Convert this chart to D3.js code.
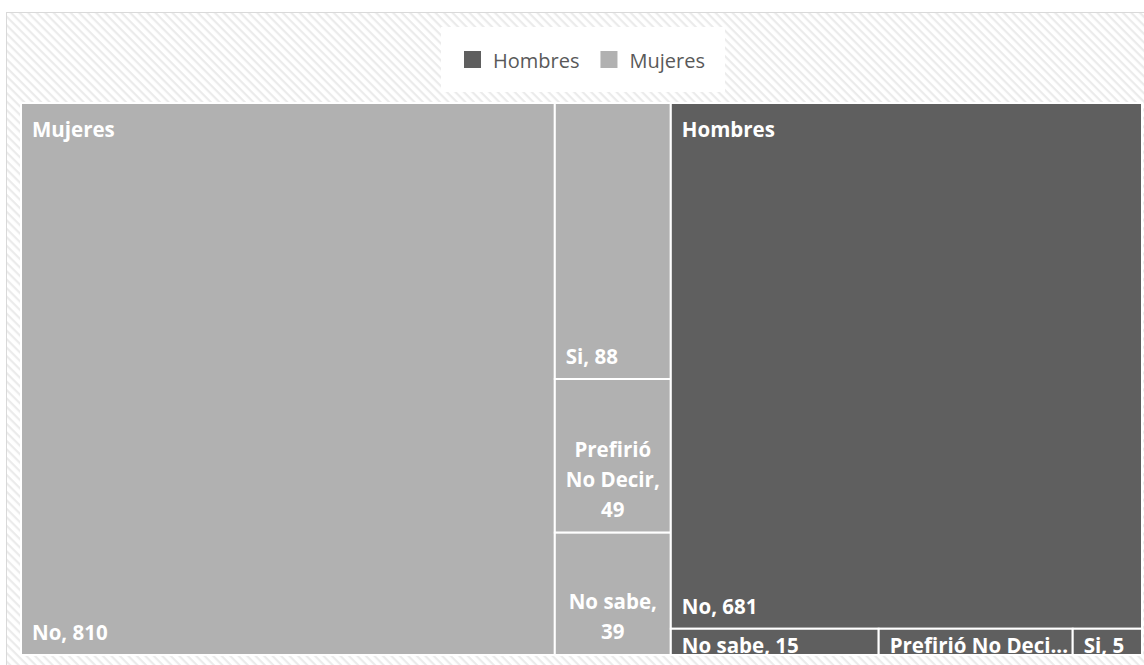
<!DOCTYPE html>
<html>
<head>
<meta charset="utf-8">
<script src="https://cdn.jsdelivr.net/npm/d3@7"></script>
<style>
  html, body { margin: 0; padding: 0; background: #ffffff; }
  svg { display: block; }
</style>
</head>
<body>
<svg id="chart" width="1144" height="665"></svg>
<script>
// Groups (top level of the treemap) and their answers
const groups = ["Mujeres", "Hombres"];
const answers = ["No", "Si", "Prefirió No Decir", "No sabe"];
const mujeresValues = [810, 88, 49, 39];
const hombresValues = [681, 5, 14, 15];
const groupColors = ["#b1b1b1", "#5f5f5f"];

const W = 1144, H = 665;
const svg = d3.select("#chart");

// Diagonal hatch for the chart area background
const defs = svg.append("defs");
const hatch = defs.append("pattern")
  .attr("id", "hatch")
  .attr("patternUnits", "userSpaceOnUse")
  .attr("width", 6).attr("height", 6)
  .attr("patternTransform", "rotate(45)");
hatch.append("rect").attr("width", 6).attr("height", 6).attr("fill", "#ffffff");
hatch.append("rect").attr("width", 6).attr("height", 2.2).attr("fill", "#ebebeb");

svg.append("rect")
  .attr("x", 6.5).attr("y", 12.5)
  .attr("width", W + 20).attr("height", H + 20)
  .attr("fill", "url(#hatch)")
  .attr("stroke", "#d9d9d9").attr("stroke-width", 1);

// Hierarchy
const data = {
  name: "root",
  children: groups.map((g, gi) => ({
    name: g,
    children: answers.map((a, ai) => ({
      name: a,
      value: (gi === 0 ? mujeresValues : hombresValues)[ai]
    }))
  }))
};

const root = d3.hierarchy(data)
  .sum(d => d.value || 0)
  .sort((a, b) => b.value - a.value);

const OX = 21, OY = 103;
d3.treemap()
  .tile(d3.treemapSquarify)
  .size([1142 - OX, 655 - OY])
  (root);
root.each(n => { n.x0 += OX; n.x1 += OX; n.y0 += OY; n.y1 += OY; });

const color = d3.scaleOrdinal().domain(groups).range(groupColors);

const FONT = "'Open Sans', 'Noto Sans', sans-serif";
const LABEL_SIZE = 20.5;
const LINE_H = 30;
const PAD = 10;

const leaves = root.leaves();
const cells = svg.append("g").selectAll("g")
  .data(leaves)
  .join("g");

cells.append("clipPath")
  .attr("id", (d, i) => "clip" + i)
  .append("rect")
  .attr("x", d => d.x0 + 1).attr("y", d => d.y0 + 1)
  .attr("width", d => d.x1 - d.x0 - 2).attr("height", d => d.y1 - d.y0 - 1);

cells.append("rect")
  .attr("x", d => d.x0).attr("y", d => d.y0)
  .attr("width", d => d.x1 - d.x0).attr("height", d => d.y1 - d.y0)
  .attr("fill", d => color(d.parent.data.name))
  .attr("stroke", "#ffffff").attr("stroke-width", 2);

// Measuring helper
const measurer = svg.append("text")
  .attr("font-family", FONT).attr("font-size", LABEL_SIZE).attr("font-weight", "bold")
  .attr("visibility", "hidden");
function textWidth(s) {
  measurer.text(s);
  return measurer.node().getComputedTextLength();
}

cells.each(function (d, i) {
  const g = d3.select(this);
  const w = d.x1 - d.x0, h = d.y1 - d.y0;
  const label = `${d.data.name}, ${d.value}`;
  const maxW = w - 2 * PAD;
  const t = g.append("text")
    .attr("clip-path", `url(#clip${i})`)
    .attr("font-family", FONT).attr("font-size", LABEL_SIZE)
    .attr("font-weight", "bold").attr("fill", "#ffffff");

  const tall = h >= LINE_H + 20;
  if (tall && textWidth(label) <= maxW) {
    t.attr("x", d.x0 + PAD + 1).attr("y", d.y1 - 15).text(label);
    return;
  }
  // word wrap
  const words = label.split(" ");
  const lines = [];
  let cur = "";
  words.forEach(wd => {
    const test = cur ? cur + " " + wd : wd;
    if (textWidth(test) <= maxW + 6 || !cur) cur = test;
    else { lines.push(cur); cur = wd; }
  });
  if (cur) lines.push(cur);
  if (tall && lines.length * LINE_H + 20 <= h) {
    const cx = (d.x0 + d.x1) / 2;
    const lastY = d.y1 - 16;
    lines.forEach((ln, k) => {
      t.append("tspan")
        .attr("x", cx)
        .attr("y", lastY - (lines.length - 1 - k) * LINE_H)
        .attr("text-anchor", "middle")
        .text(ln);
    });
  } else {
    // single line, shortened when needed, in a cell too low for the full text box
    const limit = w - PAD - 5;
    let s = label;
    if (textWidth(s) > limit) {
      while (s.length > 1 && textWidth(s + "...") > limit) s = s.slice(0, -1);
      s = s.trimEnd() + "...";
    }
    t.attr("x", d.x0 + PAD + 1).attr("y", d.y0 + 24).text(s);
  }
});

// Group labels in the top-left corner of each group
svg.append("g").selectAll("text")
  .data(root.children)
  .join("text")
  .attr("x", d => d.x0 + PAD + 1)
  .attr("y", d => d.y0 + 34)
  .attr("font-family", FONT).attr("font-size", LABEL_SIZE)
  .attr("font-weight", "bold").attr("fill", "#ffffff")
  .text(d => d.data.name);

measurer.remove();

// Legend
const legendOrder = ["Hombres", "Mujeres"];
const legend = svg.append("g");
legend.append("rect")
  .attr("x", 441).attr("y", 27).attr("width", 284).attr("height", 65)
  .attr("fill", "#ffffff");
let lx = 464;
legendOrder.forEach(name => {
  legend.append("rect")
    .attr("x", lx).attr("y", 51).attr("width", 17).attr("height", 17)
    .attr("fill", color(name));
  const tx = legend.append("text")
    .attr("x", lx + 29).attr("y", 68)
    .attr("font-family", FONT).attr("font-size", 20)
    .attr("fill", "#595959")
    .text(name);
  lx = lx + 29 + tx.node().getComputedTextLength() + 21;
});
</script>
</body>
</html>
